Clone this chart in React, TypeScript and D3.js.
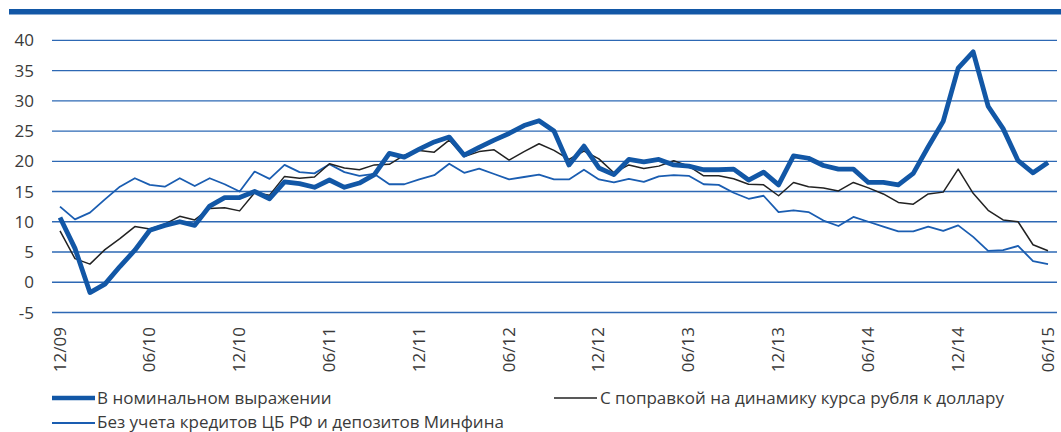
import * as d3 from "d3"

// month index 0 = 12/09 ... 66 = 06/15
const tickLabels = ["12/09", "06/10", "12/10", "06/11", "12/11", "06/12", "12/12", "06/13", "12/13", "06/14", "12/14", "06/15"]
const yTicks = [-5, 0, 5, 10, 15, 20, 25, 30, 35, 40]

const nominal = [
  10.7, 5.6, -1.7, -0.3, 2.6, 5.3, 8.6, 9.4, 10.0, 9.4, 12.6, 14.0,
  14.0, 15.0, 13.8, 16.6, 16.3, 15.7, 16.9, 15.7, 16.4, 17.8, 21.3, 20.7,
  22.0, 23.2, 24.0, 21.0, 22.3, 23.5, 24.6, 25.9, 26.7, 25.0, 19.4, 22.5,
  18.9, 17.8, 20.3, 19.9, 20.3, 19.4, 19.2, 18.6, 18.6, 18.7, 16.9, 18.2,
  16.1, 20.9, 20.5, 19.3, 18.7, 18.7, 16.5, 16.5, 16.1, 18.0, 22.4, 26.6,
  35.4, 38.1, 29.1, 25.4, 20.1, 18.1, 19.8,
]

const usdAdjusted = [
  8.5, 3.9, 3.0, 5.4, 7.2, 9.2, 8.8, 9.6, 10.9, 10.3, 12.2, 12.3,
  11.8, 14.8, 14.4, 17.5, 17.2, 17.4, 19.6, 18.9, 18.6, 19.4, 19.5, 21.0,
  21.8, 21.5, 23.5, 20.8, 21.6, 21.9, 20.2, 21.6, 22.9, 21.8, 20.3, 21.7,
  20.4, 18.1, 19.4, 18.8, 19.2, 20.1, 19.2, 17.6, 17.6, 17.1, 16.2, 16.1,
  14.3, 16.5, 15.8, 15.6, 15.1, 16.5, 15.6, 14.6, 13.2, 12.9, 14.6, 14.9,
  18.7, 14.7, 11.9, 10.3, 10.0, 6.2, 5.2,
]

const exCbr = [
  12.5, 10.4, 11.5, 13.7, 15.8, 17.2, 16.1, 15.8, 17.2, 15.9, 17.2, 16.2,
  15.0, 18.3, 17.1, 19.4, 18.2, 18.0, 19.5, 18.2, 17.6, 17.9, 16.2, 16.2,
  17.0, 17.7, 19.6, 18.1, 18.8, 17.9, 17.0, 17.4, 17.8, 17.0, 17.0, 18.6,
  17.0, 16.5, 17.1, 16.6, 17.5, 17.7, 17.6, 16.2, 16.1, 14.8, 13.8, 14.3,
  11.6, 11.9, 11.6, 10.2, 9.3, 10.8, 10.0, 9.2, 8.4, 8.4, 9.2, 8.5,
  9.4, 7.5, 5.2, 5.3, 6.0, 3.5, 3.0,
]

const legendNominal = "В номинальном выражении"
const legendUsd = "С поправкой на динамику курса рубля к доллару"
const legendExCbr = "Без учета кредитов ЦБ РФ и депозитов Минфина"

const W = 1061
const H = 432
const FONT = "'Open Sans', 'Noto Sans', sans-serif"
const BLUE = "#1257a6"
const GRID = "#2d68b4"
const TEXT = "#3a3a3a"
const FS = 17

export default function App() {
  const x = d3.scaleLinear().domain([0, nominal.length - 1]).range([60, 1048])
  const y = d3.scaleLinear().domain([-5, 40]).range([312.5, 40.3])

  const line = d3
    .line<number>()
    .x((_, i) => x(i))
    .y((d) => y(d))

  return (
    <svg
      width={W}
      height={H}
      style={{ position: "absolute", left: 0, top: 0, background: "#fff" }}
      fontFamily={FONT}
    >
      {/* top bar */}
      <rect x={9} y={9} width={W - 9} height={5.5} fill={BLUE} />

      {/* grid + y ticks */}
      {yTicks.map((t) => (
        <g key={t}>
          <line x1={52} x2={1057} y1={y(t)} y2={y(t)} stroke={GRID} strokeWidth={1.3} />
          <text x={34} y={y(t)} dy="0.36em" textAnchor="end" fontSize={FS} fill={TEXT}>
            {t}
          </text>
        </g>
      ))}

      {/* x labels */}
      {tickLabels.map((lab, k) => (
        <text
          key={lab}
          transform={`translate(${x(k * 6) + 5.5}, 327) rotate(-90)`}
          textAnchor="end"
          fontSize={FS}
          fill={TEXT}
        >
          {lab}
        </text>
      ))}

      {/* series */}
      <path d={line(exCbr) ?? ""} fill="none" stroke="#1a5db1" strokeWidth={1.8} strokeLinejoin="round" />
      <path d={line(usdAdjusted) ?? ""} fill="none" stroke="#222" strokeWidth={1.5} strokeLinejoin="round" />
      <path d={line(nominal) ?? ""} fill="none" stroke={BLUE} strokeWidth={4.8} strokeLinejoin="round" />

      {/* legend */}
      <line x1={52} x2={95} y1={398} y2={398} stroke={BLUE} strokeWidth={4.5} />
      <text x={97} y={404} fontSize={FS} fill={TEXT}>{legendNominal}</text>
      <line x1={554} x2={597} y1={398} y2={398} stroke="#222" strokeWidth={1.5} />
      <text x={600} y={404} fontSize={FS} fill={TEXT}>{legendUsd}</text>
      <line x1={52} x2={95} y1={423} y2={423} stroke="#1a5db1" strokeWidth={1.8} />
      <text x={97} y={428} fontSize={FS} fill={TEXT}>{legendExCbr}</text>
    </svg>
  )
}
